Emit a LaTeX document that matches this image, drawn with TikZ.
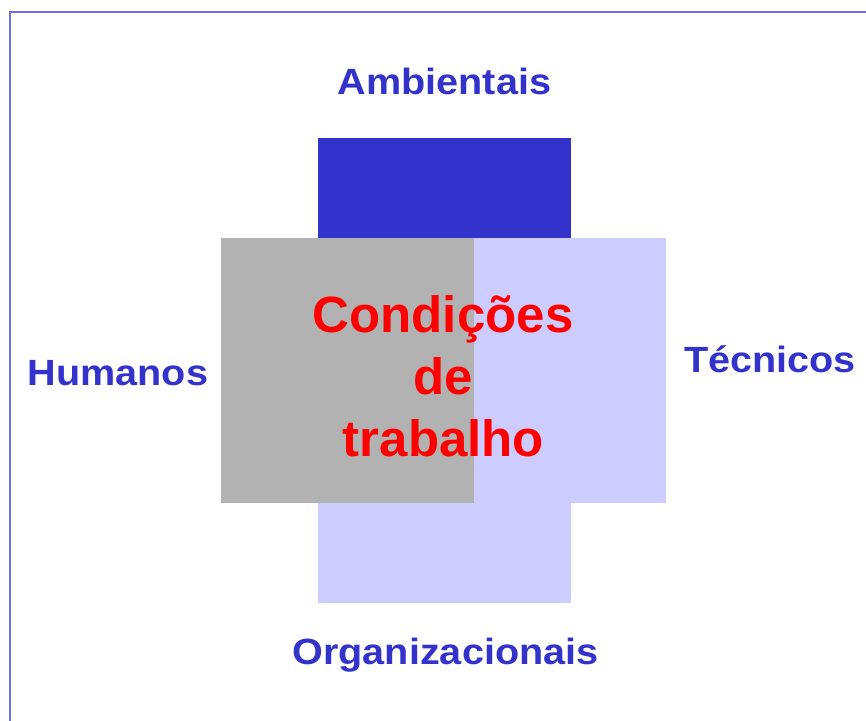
\documentclass[tikz,border=0pt]{standalone}
\usepackage{fontspec}
\setmainfont{Liberation Sans}
\newfontfamily\lblfont[FakeStretch=1.085]{Liberation Sans Bold}
\newfontfamily\ctrfont{Liberation Sans Bold}
\definecolor{dblue}{HTML}{3333CC}
\definecolor{lav}{HTML}{CCCCFF}
\definecolor{midgray}{HTML}{B2B2B2}
\definecolor{bordercol}{HTML}{7070DD}
\definecolor{pred}{HTML}{FF0000}
\begin{document}
\begin{tikzpicture}[x=1pt,y=-1pt,
  lbl/.style={text=dblue,font=\lblfont\fontsize{36.5}{40}\selectfont,anchor=base,inner sep=0pt},
  ctr/.style={text=pred,font=\ctrfont\fontsize{51}{62}\selectfont,anchor=base,inner sep=0pt}]
\useasboundingbox (0,0) rectangle (866,720);
\draw[bordercol,line width=2pt] (10,740) -- (10,12) -- (890,12);
\fill[lav] (318,238) rectangle (571,603);
\fill[lav] (221,238) rectangle (666,503);
\fill[midgray] (221,238) rectangle (474,503);
\fill[dblue] (318,138) rectangle (571,238);
\node[lbl] (amb) at (444.5,94) {Ambientais};
\node[lbl] (hum) at (118,385) {Humanos};
\node[lbl] (tec) at (770,372) {Técnicos};
\node[lbl] (org) at (445.5,664) {Organizacionais};
\node[ctr] (c1) at (443,332) {Condições};
\node[ctr] (c2) at (443,394) {de};
\node[ctr] (c3) at (443.5,456) {trabalho};
\end{tikzpicture}
\end{document}
